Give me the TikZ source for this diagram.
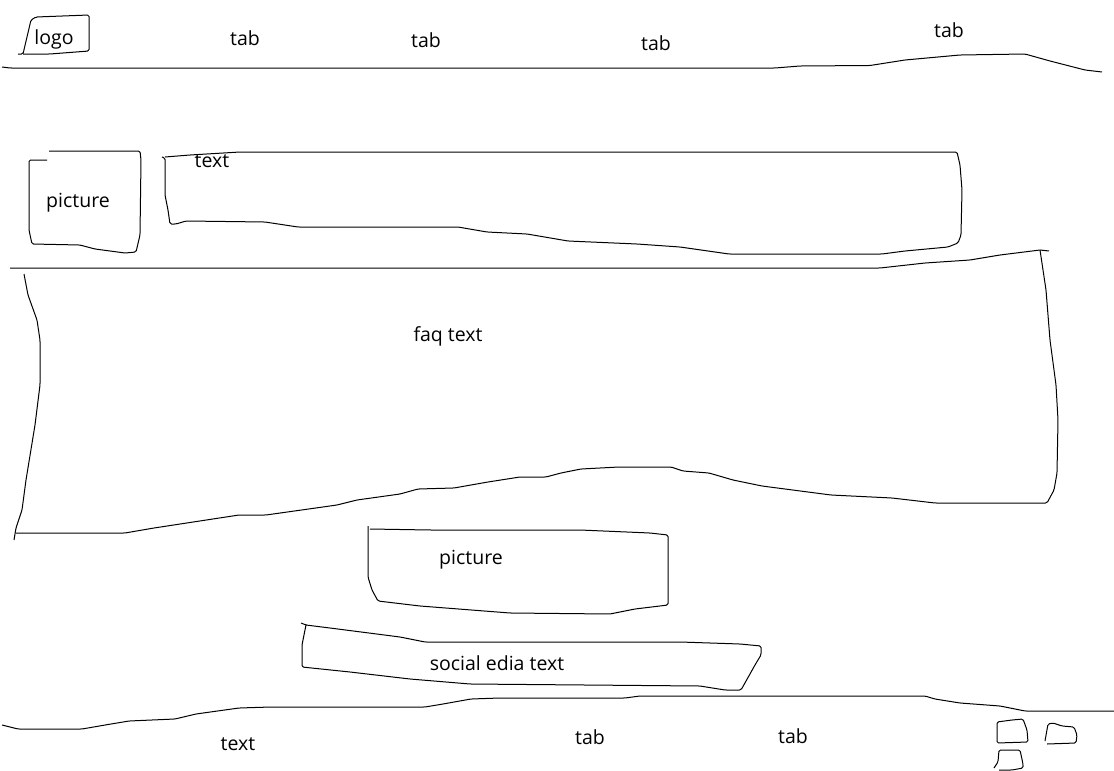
\documentclass[tikz,border=0pt]{standalone}
\usepackage{fontspec}
\setmainfont{Open Sans}
\tikzset{
  sketch/.style={draw=black, line width=1pt, line join=round, rounded corners=1.5pt},
  label/.style={inner sep=0pt, font=\fontsize{19.5}{22}\selectfont, text=black}
}
\begin{document}
\begin{tikzpicture}[x=1pt,y=-1pt]

        \useasboundingbox (0,0) rectangle (1114,771);

        % top bar
        \draw[sketch] (2,67) -- (10,68) -- (300,68) -- (775,68) -- (800,66) -- (870,65.5) -- (905,60) -- (960,55) -- (1025,54) -- (1050,61) -- (1085,70) -- (1102,72);
        \draw[sketch] (18,54) -- (23,54) -- (31,20) -- (36,17) -- (89,15) -- (89,51) -- (50,54) -- (23,54);
        \node[label] (logo) at (54,39.5) {logo};
        \node[label] (tab1) at (245,38) {tab};
        \node[label] (tab2) at (426,40) {tab};
        \node[label] (tab3) at (656,43) {tab};
        \node[label] (tab4) at (949,30) {tab};

        % picture and text row
        \draw[sketch] (47,160) -- (29,160) -- (29,230) -- (32,244) -- (80,245) -- (95,249) -- (125,253) -- (136,252) -- (140,235) -- (141,160) -- (140,151) -- (49,151);
        \node[label] (pic1) at (78,202.5) {picture};
        \draw[sketch] (162,157) -- (165,158) -- (165,195) -- (168,210) -- (170,224) -- (176,224) -- (186,221) -- (265,222) -- (298,227) -- (458,227) -- (487,232) -- (527,234) -- (568,241) -- (637,244) -- (680,247) -- (729,254) -- (882,254) -- (905,251) -- (948,247) -- (958,243) -- (961,235) -- (962,190) -- (960,165) -- (957,152) -- (530,152) -- (240,152) -- (190,155) -- (165,157);
        \node[label] (text1) at (212,161.5) {text};

        % faq block
        \draw[sketch] (10,268) -- (880,268) -- (925,263) -- (970,260) -- (1000,255) -- (1040,250) -- (1049,251);
        \draw[sketch] (1040,250) -- (1046,290) -- (1050,340) -- (1056,385) -- (1058,420) -- (1057,473) -- (1054,490) -- (1047,503) -- (935,503) -- (892,498) -- (831,495) -- (762,486) -- (733,480) -- (709,473) -- (683,471) -- (671,467) -- (619,467) -- (581,469) -- (561,473) -- (546,477) -- (520,477) -- (488,482) -- (454,488) -- (418,489) -- (400,494) -- (357,500) -- (337,505) -- (266,515) -- (239,515) -- (154,528) -- (125,533) -- (16,533);
        \draw[sketch] (24,274) -- (28,295) -- (37,320) -- (40,340) -- (40,385) -- (35,425) -- (26,480) -- (22,510) -- (16,528) -- (14,540);
        \node[label] (faq) at (448,336) {faq text};

        % picture below faq
        \draw[sketch] (368,526) -- (368,577) -- (372,590) -- (378,601) -- (420,606) -- (510,613) -- (610,614) -- (635,609) -- (668,605) -- (668,535) -- (650,533) -- (580,530) -- (430,530) -- (370,529);
        \node[label] (pic2) at (471,559.5) {picture};

        % social media block
        \draw[sketch] (301,623) -- (306,625) -- (330,628) -- (400,637) -- (425,642) -- (680,642) -- (740,644) -- (761,646) -- (761,655) -- (755,665) -- (741,690) -- (725,690) -- (700,686) -- (470,684) -- (410,679) -- (350,672) -- (302,667) -- (302,645) -- (306,625);
        \node[label] (social) at (497,663.5) {social edia text};

        % bottom bar
        \draw[sketch] (2,725) -- (18,729) -- (82,729) -- (111,724) -- (129,721) -- (175,719) -- (196,714) -- (239,708) -- (271,707) -- (425,707) -- (443,704) -- (471,699) -- (500,698) -- (625,698) -- (640,696) -- (925,696) -- (935,699) -- (960,703) -- (1000,706) -- (1025,711) -- (1105,711) -- (1114,711);
        \node[label] (text2) at (238,744.5) {text};
        \node[label] (tab5) at (590,737) {tab};
        \node[label] (tab6) at (793,736) {tab};

        % small icons
        \draw[sketch] (997,722) -- (1012,720) -- (1023,719) -- (1027,730) -- (1028,742) -- (997,743) -- cycle;
        \draw[sketch] (1045,741) -- (1048,724) -- (1053,723) -- (1062,726) -- (1074,727) -- (1077,735) -- (1076,743) -- (1047,744);
        \draw[sketch] (994,768) -- (998,762) -- (999,750) -- (1020,750) -- (1023,764) -- (1023,768) -- (1012,770) -- (999,770);

\end{tikzpicture}
\end{document}
